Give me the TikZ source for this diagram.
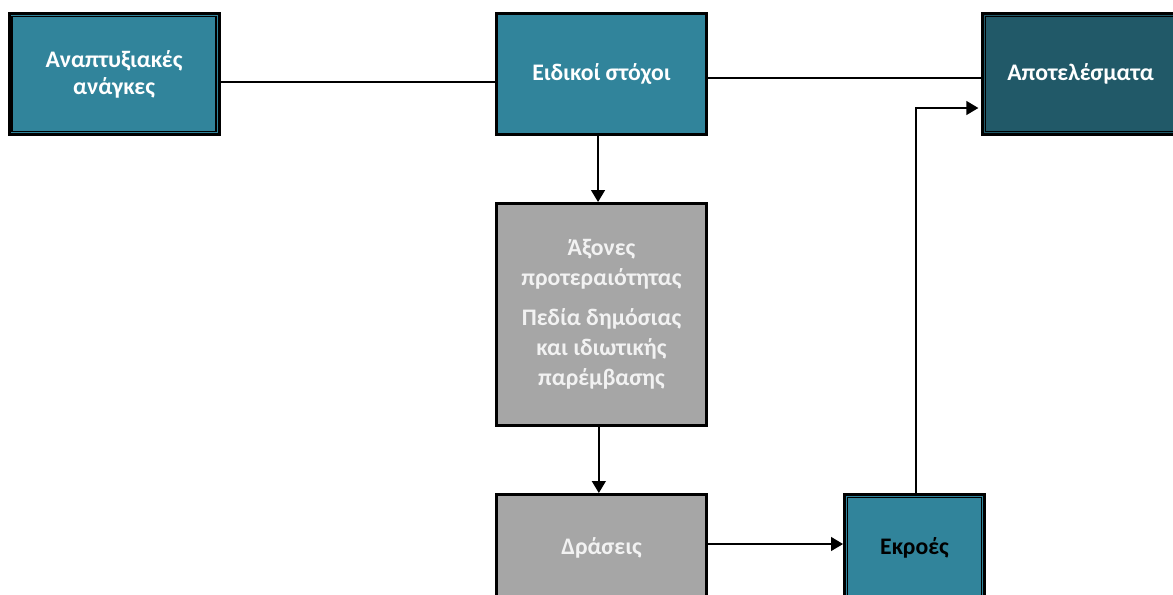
\documentclass[tikz,border=0pt]{standalone}
\usepackage{fontspec}
\setmainfont{Carlito}
\usetikzlibrary{arrows.meta,calc}
\definecolor{teal1}{HTML}{31849B}
\definecolor{teal2}{HTML}{215968}
\definecolor{grey1}{HTML}{A6A6A6}
\tikzset{
  box/.style={draw=black, line width=2.25pt, minimum width=157.5pt, minimum height=90.75pt,
    inner sep=2pt, align=center, font=\fontsize{17.8}{20.25}\selectfont\bfseries, text=white},
  dbl/.style={box, path picture={\draw[line width=1pt]
     ([shift={(2.2pt,-2.2pt)}]path picture bounding box.north west) rectangle
     ([shift={(-2.2pt,2.2pt)}]path picture bounding box.south east);}},
  conn/.style={line width=1pt, draw=black},
  arr/.style={conn, -{Triangle[length=9pt,width=10.5pt]}}
}
\begin{document}
\begin{tikzpicture}[x=0.75pt,y=-0.75pt]
\useasboundingbox (0,0) rectangle (1173,594);
\node[dbl, fill=teal1] (b1) at (114,74) {Αναπτυξιακές\\ανάγκες};
\node[box, fill=teal1] (b2) at (601.5,74) {Ειδικοί στόχοι};
\node[dbl, fill=teal2, minimum width=147pt] (b3) at (1080.5,74) {Αποτελέσματα};
\node[box, fill=grey1, minimum height=166.5pt, text=white!95!black] (g1) at (601.5,314.5)
  {Άξονες\\[2.25pt]προτεραιότητας\\[9.75pt]Πεδία δημόσιας\\[2.25pt]και ιδιωτικής\\[2.25pt]παρέμβασης};
\node[box, fill=grey1, minimum height=80.25pt, text=white!95!black] (g2) at (601.5,548) {Δράσεις};
\node[dbl, fill=teal1, minimum width=105pt, minimum height=80.25pt, text=black] (e) at (914.5,548) {Εκροές};
\draw[conn] ([yshift=-6pt]b1.east) -- ([yshift=-6pt]b2.west);
\draw[conn] ([yshift=-3pt]b2.east) -- ([yshift=-3pt]b3.west);
\draw[arr] ([xshift=-2.6pt]b2.south) -- ([xshift=-2.6pt]g1.north);
\draw[arr] ([xshift=-2pt]g1.south) -- ([xshift=-2pt]g2.north);
\draw[arr] ([yshift=3pt]g2.east) -- ([yshift=3pt]e.west);
\draw[arr] ([xshift=1pt]e.north) |- ([yshift=-25.5pt,xshift=-2pt]b3.west);
\end{tikzpicture}
\end{document}
